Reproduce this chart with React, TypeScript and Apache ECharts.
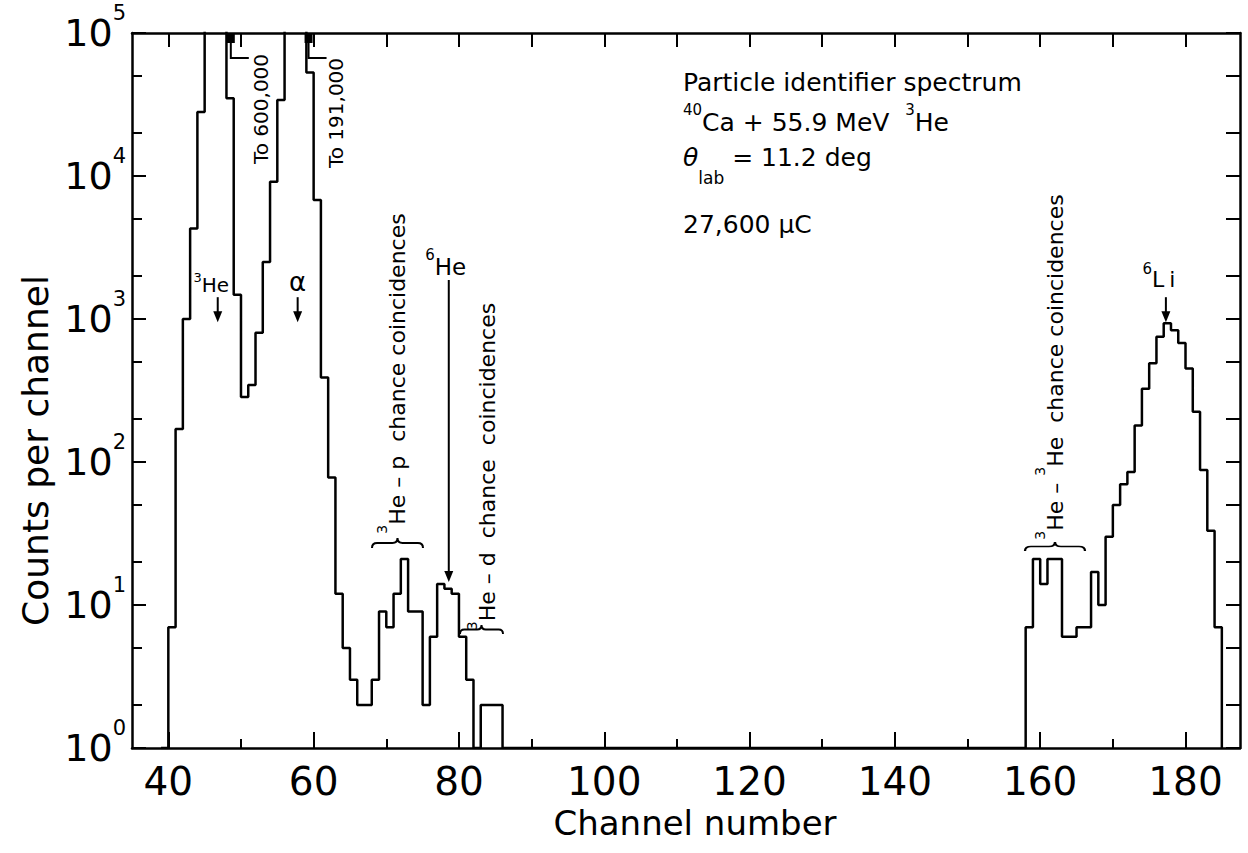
import React, { useEffect, useRef } from 'react';
import * as echarts from 'echarts';

const FONT = 'DejaVu Sans';
const INK = '#000';

// ---- Data (counts per channel) ----
const leftStartChannel = 39;
const leftCounts = [
  0, 7, 170, 1000, 4300, 28000, 200000, 600000, 300000, 35000,
  1480, 285, 345, 800, 2500, 9100, 34000, 120000, 191000, 140000,
  53000, 6800, 390, 78, 12, 5, 3, 2, 2, 3,
  9, 7, 12, 21, 9, 9, 2, 6, 14, 13,
  12, 6, 3, 0, 2, 2, 2, 0,
];
const rightStartChannel = 157;
const rightCounts = [
  0, 7, 21, 14, 21, 21, 6, 6, 7, 7,
  17, 10, 30, 50, 70, 85, 180, 325, 490, 750,
  935, 835, 680, 450, 225, 88, 33, 7, 0,
];

// ---- Axis ticks ----
const xLabelTicks = [40, 60, 80, 100, 120, 140, 160, 180];
const xMinorTicks = [50, 70, 90, 110, 130, 150, 170];
const xTopTicks = [40, 50, 60, 70, 80, 90, 100, 110, 120, 130, 140, 150, 160, 170, 180];
const yDecadeTicks = [1, 10, 100, 1000, 10000, 100000];
const yMinorTicks = [2, 5, 20, 50, 200, 500, 2000, 5000, 20000, 50000];

// ---- Annotations anchored on data ----
const offScaleMarks = [
  { channel: 48.6, label: 'To 600,000' },
  { channel: 59.3, label: 'To 191,000' },
];
const peakArrows = [
  { channel: 46.8, value: 950, label: '{s|3}He' },
  { channel: 57.8, value: 950, label: 'α' },
  { channel: 78.6, value: 14.5, label: '{s|6}He' },
  { channel: 177.3, value: 950, label: '{s|6}{L|L}i' },
];
const chanceLabels = [
  '{s|3}He – p  chance coincidences',
  '{s|3}He – d  chance  coincidences',
  '{s|3}He – {s|3}He  chance coincidences',
];
const infoLines = [
  'Particle identifier spectrum',
  '{s|40}Ca + 55.9 MeV  {s|3}He',
  '{i|θ}{b|lab} = 11.2 deg',
  '27,600 μC',
];

// layout of annotations (pixels)
const offScaleLayout = [
  { dx: 30, dy: 76 },
  { dx: 27, dy: 80 },
];
const arrowLayout = [
  { length: 25, fontSize: 20, supSize: 13, raise: 8, dx: -6.5, dy: -37 },
  { length: 25, fontSize: 26, supSize: 13, raise: 8, dx: 0, dy: -40 },
  { length: 302, fontSize: 23, supSize: 15, raise: 11.5, dx: -3, dy: -315 },
  { length: 25, fontSize: 22, supSize: 15, raise: 10.5, dx: -7, dy: -42.6 },
];
const chanceLayout = [
  { cx: 397.4, cy: 373.5, brace: [372, 423, 538, 548] },
  { cx: 487.4, cy: 466.5, brace: [460, 503, 625, 634] },
  { cx: 1055.4, cy: 367, brace: [1025, 1085, 542, 551] },
];
const infoLayout = { x: 683, ys: [82.6, 122.6, 157.6, 224.6] };

// brace shape (unit 100 x 20), cusp pointing up
echarts.graphic.registerShape(
  'brace',
  echarts.graphic.extendPath(
    'M0 20 Q0 10 10 10 L40 10 Q50 10 50 0 Q50 10 60 10 L90 10 Q100 10 100 20',
    {}
  ) as any
);

function buildHistogram(): [number, number][] {
  const pts: [number, number][] = [];
  leftCounts.forEach((c, i) => pts.push([leftStartChannel + i, Math.max(c, 1)]));
  rightCounts.forEach((c, i) => pts.push([rightStartChannel + i, Math.max(c, 1)]));
  return pts;
}

function buildOption(): any {
  const frame = { color: INK, width: 2.5 };
  const tickLine = { color: INK, width: 2 };
  const xRange = { min: 35, max: 187.5 };
  const yRange = { min: 1, max: 100000, logBase: 10 };
  return {
    animation: false,
    backgroundColor: '#fff',
    grid: { left: 132, right: 8, top: 33, bottom: 105, containLabel: false },
    xAxis: [
      {
        type: 'value', position: 'bottom', ...xRange,
        axisLine: { show: true, onZero: false, lineStyle: frame },
        axisTick: { show: true, inside: true, length: 16, lineStyle: tickLine, customValues: xLabelTicks },
        axisLabel: { show: true, customValues: xLabelTicks, fontSize: 39, fontFamily: FONT, color: INK, margin: 14 },
        splitLine: { show: false },
        name: 'Channel number', nameLocation: 'middle', nameGap: 57,
        nameTextStyle: { fontSize: 34, fontFamily: FONT, color: INK, padding: [0, 0, 0, 18] },
      },
      {
        type: 'value', position: 'bottom', ...xRange,
        axisLine: { show: false },
        axisTick: { show: true, inside: true, length: 9, lineStyle: tickLine, customValues: xMinorTicks },
        axisLabel: { show: false },
        splitLine: { show: false },
      },
      {
        type: 'value', position: 'top', ...xRange,
        axisLine: { show: true, onZero: false, lineStyle: frame },
        axisTick: { show: true, inside: true, length: 14, lineStyle: tickLine, customValues: xTopTicks },
        axisLabel: { show: false },
        splitLine: { show: false },
      },
    ],
    yAxis: [
      {
        type: 'log', position: 'left', ...yRange,
        axisLine: { show: true, onZero: false, lineStyle: frame },
        axisTick: { show: true, inside: true, length: 14, lineStyle: tickLine, customValues: yDecadeTicks },
        axisLabel: {
          show: true, customValues: yDecadeTicks, margin: 6,
          formatter: (v: number) => `{b|10}{s|${Math.round(Math.log10(v))}}`,
          rich: {
            b: { fontSize: 38, fontFamily: FONT, color: INK },
            s: { fontSize: 21, fontFamily: FONT, color: INK, padding: [0, 0, 40, 0] },
          },
        },
        splitLine: { show: false },
        name: 'Counts per channel', nameLocation: 'middle', nameGap: 74,
        nameTextStyle: { fontSize: 36, fontFamily: FONT, color: INK, padding: [0, 120, 0, 0] },
      },
      {
        type: 'log', position: 'left', ...yRange,
        axisLine: { show: false },
        axisTick: { show: true, inside: true, length: 10, lineStyle: tickLine, customValues: yMinorTicks },
        axisLabel: { show: false },
        splitLine: { show: false },
      },
      {
        type: 'log', position: 'right', ...yRange,
        axisLine: { show: true, onZero: false, lineStyle: frame },
        axisTick: { show: true, inside: true, length: 14, lineStyle: tickLine, customValues: [...yDecadeTicks, ...yMinorTicks] },
        axisLabel: { show: false },
        splitLine: { show: false },
      },
    ],
    series: [
      {
        type: 'line', xAxisIndex: 0, yAxisIndex: 0, step: 'end',
        symbol: 'none', showSymbol: false, clip: true, silent: true,
        lineStyle: { color: INK, width: 2.5 },
        data: buildHistogram(),
      },
    ],
  };
}

function supRich(size: number, raise: number) {
  return { fontSize: size, fontFamily: FONT, fill: INK, padding: [0, 0, raise * 2, 0] };
}

function buildGraphic(chart: any): any[] {
  const toPx = (ch: number, v: number) =>
    chart.convertToPixel({ xAxisIndex: 0, yAxisIndex: 0 }, [ch, v]) as number[];
  const els: any[] = [];

  offScaleMarks.forEach((m, i) => {
    const [x, yTop] = toPx(m.channel, 100000);
    const L = offScaleLayout[i];
    els.push({ type: 'rect', silent: true, shape: { x: x - 4, y: yTop, width: 8, height: 10 }, style: { fill: INK } });
    els.push({
      type: 'polyline', silent: true,
      shape: { points: [[x, yTop + 8], [x, yTop + 25], [x + 18, yTop + 25]] },
      style: { stroke: INK, lineWidth: 2, fill: null },
    });
    els.push({
      type: 'text', silent: true, x: x + L.dx, y: yTop + L.dy, rotation: Math.PI / 2,
      style: { text: m.label, fontSize: 20, fontFamily: FONT, fill: INK, align: 'center', verticalAlign: 'middle' },
    });
  });

  peakArrows.forEach((a, i) => {
    const L = arrowLayout[i];
    const [x, tipY] = toPx(a.channel, a.value);
    els.push({
      type: 'line', silent: true,
      shape: { x1: x, y1: tipY - L.length, x2: x, y2: tipY - 9 },
      style: { stroke: INK, lineWidth: 2 },
    });
    els.push({
      type: 'polygon', silent: true,
      shape: { points: [[x - 4.5, tipY - 11], [x + 4.5, tipY - 11], [x, tipY]] },
      style: { fill: INK },
    });
    els.push({
      type: 'text', silent: true, x: x + L.dx, y: tipY + L.dy,
      style: {
        text: a.label, fontSize: L.fontSize, fontFamily: FONT, fill: INK,
        align: 'center', verticalAlign: 'middle',
        rich: {
          s: supRich(L.supSize, L.raise),
          L: { fontSize: L.fontSize, fontFamily: FONT, fill: INK, padding: [0, 5, 0, 0] },
        },
      },
    });
  });

  chanceLabels.forEach((t, i) => {
    const L = chanceLayout[i];
    els.push({
      type: 'text', silent: true, x: L.cx, y: L.cy, rotation: Math.PI / 2,
      style: {
        text: t, fontSize: 22, fontFamily: FONT, fill: INK, align: 'center', verticalAlign: 'middle',
        rich: { s: supRich(14, 15) },
      },
    });
    const [x1, x2, y1, y2] = L.brace;
    els.push({
      type: 'brace', silent: true, x: x1, y: y1, scaleX: (x2 - x1) / 100, scaleY: (y2 - y1) / 20,
      style: { stroke: INK, fill: null, lineWidth: 2, strokeNoScale: true },
    });
  });

  infoLines.forEach((t, i) => {
    els.push({
      type: 'text', silent: true, x: infoLayout.x, y: infoLayout.ys[i],
      style: {
        text: t, fontSize: 25, fontFamily: FONT, fill: INK, align: 'left', verticalAlign: 'middle',
        rich: {
          s: supRich(15, 12.5),
          i: { fontSize: 25, fontFamily: FONT, fontStyle: 'italic', fill: INK },
          b: { fontSize: 17, fontFamily: FONT, fill: INK, padding: [41, 0, 0, 0] },
        },
      },
    });
  });

  return els;
}

export default function App() {
  const ref = useRef<HTMLDivElement>(null);
  useEffect(() => {
    const el = ref.current;
    if (!el) return;
    const chart = echarts.init(el, null, { renderer: 'svg' });
    chart.setOption(buildOption());
    chart.setOption({ graphic: { elements: buildGraphic(chart) } });
    return () => chart.dispose();
  }, []);
  return (
    <div
      ref={ref}
      style={{ position: 'fixed', left: 0, top: 0, width: 1248, height: 853, background: '#fff' }}
    />
  );
}
